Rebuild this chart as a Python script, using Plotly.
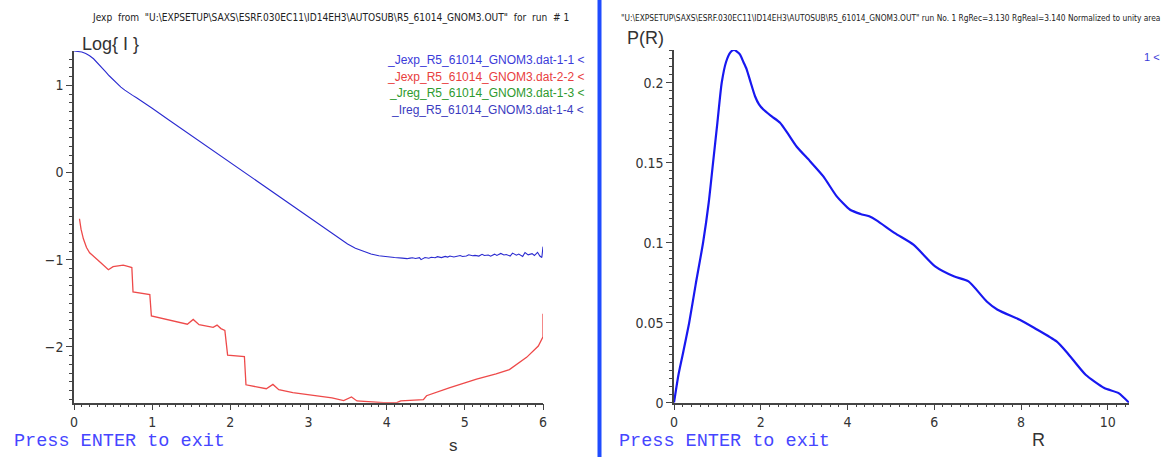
import plotly.graph_objects as go

W, H = 1165, 457

# ---------------- data: left panel (log I vs s) ----------------
s_exp = [0.0, 0.05, 0.10, 0.15, 0.20, 0.25, 0.30, 0.35, 0.40, 0.45, 0.50, 0.55, 0.60,
         0.65, 0.70, 0.75, 0.80, 0.90, 1.0, 1.2, 1.4, 1.6, 1.8, 2.0, 2.2, 2.4, 2.6,
         2.8, 3.0, 3.2, 3.4, 3.5, 3.6, 3.7, 3.8, 3.9, 4.0, 4.1, 4.2, 4.26,
         4.30, 4.33, 4.37, 4.42, 4.44, 4.49, 4.54, 4.57, 4.62, 4.65, 4.70, 4.75,
         4.78, 4.81, 4.86, 4.91, 4.94, 4.97, 5.02, 5.05, 5.10, 5.13, 5.18, 5.22,
         5.25, 5.30, 5.33, 5.38, 5.41, 5.46, 5.50, 5.53, 5.58, 5.61, 5.66, 5.69,
         5.74, 5.77, 5.81, 5.86, 5.89, 5.93, 5.96, 5.985, 6.0]
logI_exp = [1.394, 1.39, 1.382, 1.365, 1.34, 1.305, 1.26, 1.21, 1.16, 1.11, 1.065, 1.02, 0.98,
            0.945, 0.912, 0.885, 0.857, 0.80, 0.737, 0.612, 0.487, 0.362, 0.237, 0.112, -0.013,
            -0.138, -0.263, -0.388, -0.513, -0.638, -0.76, -0.82, -0.868, -0.905, -0.935, -0.955,
            -0.968, -0.975, -0.982, -0.988,
            -0.982, -0.978, -0.986, -0.976, -0.999, -0.975, -0.983, -0.972, -0.978, -0.965, -0.976,
            -0.962, -0.97, -0.957, -0.968, -0.96, -0.952, -0.963, -0.958, -0.944, -0.955,
            -0.95, -0.958, -0.938, -0.952, -0.946, -0.96, -0.936, -0.951, -0.928, -0.945,
            -0.94, -0.958, -0.924, -0.948, -0.935, -0.962, -0.918, -0.944, -0.93, -0.952,
            -0.915, -0.958, -0.975, -0.85]

s_err = [0.07, 0.09, 0.12, 0.16, 0.20, 0.25, 0.30, 0.35, 0.44, 0.50, 0.57, 0.63, 0.70,
         0.74, 0.755, 0.85, 0.97, 0.99, 1.2, 1.45, 1.525, 1.6, 1.78, 1.83, 1.88, 1.93,
         1.965, 2.18, 2.20, 2.46, 2.545, 2.62, 2.8, 3.0, 3.3, 3.45, 3.55, 3.62, 3.8,
         3.96, 4.13, 4.18, 4.47, 4.51, 4.8, 5.15, 5.4, 5.57, 5.79, 5.94, 6.0, 6.0]
logI_err = [-0.53, -0.65, -0.76, -0.86, -0.92, -0.965, -1.0, -1.04, -1.115, -1.08, -1.07,
            -1.063, -1.08, -1.09, -1.37, -1.385, -1.40, -1.645, -1.69, -1.74, -1.685, -1.745,
            -1.775, -1.75, -1.79, -1.81, -2.095, -2.11, -2.435, -2.48, -2.43, -2.49, -2.525,
            -2.55, -2.585, -2.615, -2.575, -2.62, -2.635, -2.64, -2.64, -2.62, -2.605, -2.56,
            -2.47, -2.37, -2.31, -2.26, -2.12, -1.99, -1.885, -1.62]

# ---------------- data: right panel (P(R) vs R) ----------------
r_vals = [0.0, 0.1, 0.2, 0.35, 0.5, 0.67, 0.8, 0.9, 1.0, 1.1, 1.2, 1.3, 1.38, 1.45, 1.52,
          1.6, 1.677, 1.77, 1.868, 1.96, 2.06, 2.253, 2.445, 2.63, 2.83, 3.136, 3.443, 3.752,
          4.06, 4.3, 4.5, 4.67, 5.09, 5.52, 6.02, 6.45, 6.79, 7.21, 7.46, 7.97, 8.31, 8.82,
          9.07, 9.49, 9.92, 10.25, 10.49]
p_vals = [0.0, 0.017, 0.03, 0.05, 0.074, 0.10, 0.125, 0.15, 0.175, 0.20, 0.213, 0.219,
          0.2205, 0.2195, 0.2177, 0.213, 0.2083, 0.20, 0.1916, 0.1865, 0.1833, 0.179, 0.175,
          0.168, 0.160, 0.151, 0.1415, 0.129, 0.1206, 0.118, 0.1165, 0.114, 0.106, 0.0988,
          0.0852, 0.079, 0.0758, 0.0633, 0.0581, 0.0519, 0.0467, 0.0383, 0.0311, 0.0175,
          0.0092, 0.006, 0.0]

legend_labels = ["_Jexp_R5_61014_GNOM3.dat-1-1 &lt;", "_Jexp_R5_61014_GNOM3.dat-2-2 &lt;",
                 "_Jreg_R5_61014_GNOM3.dat-1-3 &lt;", "_Ireg_R5_61014_GNOM3.dat-1-4 &lt;"]
legend_colors = ["#3b3bd9", "#e84040", "#2e9a2e", "#3b3bc0"]

title_left = r'Jexp  from  "U:\EXPSETUP\SAXS\ESRF.030EC11\ID14EH3\AUTOSUB\R5_61014_GNOM3.OUT"  for  run  # 1'
title_right = r'"U:\EXPSETUP\SAXS\ESRF.030EC11\ID14EH3\AUTOSUB\R5_61014_GNOM3.OUT" run No. 1 RgRec=3.130 RgReal=3.140 Normalized to unity area'

NARROW = "Liberation Sans Narrow, Arial Narrow, DejaVu Sans Condensed, sans-serif"
SANS = "Liberation Sans, Arial, sans-serif"
MONO = "Liberation Mono, DejaVu Sans Mono, monospace"
AXC = "#444444"

fig = go.Figure()
fig.add_trace(go.Scatter(x=s_exp, y=logI_exp, mode="lines", line=dict(color="#2a2ad0", width=1.1),
                         xaxis="x", yaxis="y", showlegend=False))
fig.add_trace(go.Scatter(x=s_err, y=logI_err, mode="lines", line=dict(color="#ee4a4a", width=1.3),
                         xaxis="x", yaxis="y", showlegend=False))
fig.add_trace(go.Scatter(x=r_vals, y=p_vals, mode="lines",
                         line=dict(color="#1818f0", width=2.2, shape="spline", smoothing=0.6),
                         xaxis="x2", yaxis="y2", showlegend=False))

def px(x):
    return x / W

def py(y):
    return 1 - y / H

axis_common = dict(showgrid=False, zeroline=False, showline=True, linecolor=AXC, linewidth=1.5,
                   ticks="outside", ticklen=6, tickwidth=1.2, tickcolor=AXC, automargin=False,
                   tickfont=dict(family=NARROW, size=14, color="#333333"))

fig.update_layout(
    width=W, height=H, autosize=False,
    margin=dict(l=0, r=0, t=0, b=0, pad=0),
    paper_bgcolor="white", plot_bgcolor="white",
    xaxis=dict(domain=[px(74), px(543)], range=[0, 6], dtick=1, anchor="y",
               minor=dict(dtick=0.1, ticklen=3, ticks="outside", tickcolor=AXC), **axis_common),
    yaxis=dict(domain=[py(402.7), py(51)], range=[-2.64, 1.394], dtick=1, anchor="x",
               minor=dict(dtick=0.1, ticklen=3, ticks="outside", tickcolor=AXC), **axis_common),
    xaxis2=dict(domain=[px(674), px(1129)], range=[0, 10.49], dtick=2, anchor="y2",
                minor=dict(dtick=0.2, ticklen=3, ticks="outside", tickcolor=AXC), **axis_common),
    yaxis2=dict(domain=[py(402.7), py(50)], range=[0, 0.2205], dtick=0.05, anchor="x2",
                minor=dict(dtick=0.005, ticklen=3, ticks="outside", tickcolor=AXC), **axis_common),
)

ann = []
def A(x, y, text, size, color="#333333", family=NARROW, xanchor="left"):
    ann.append(dict(x=px(x), y=py(y), xref="paper", yref="paper", text=text, showarrow=False,
                    xanchor=xanchor, yanchor="middle", font=dict(family=family, size=size, color=color)))

A(330, 18, title_left, 10.1, color="#222222", xanchor="center")
A(619, 18, title_right, 8.3, color="#222222")
A(80, 44, "Log{ I }", 18, family=SANS)
A(625, 38, "P(R)", 18, family=SANS)
A(453, 445, "s", 17, family=SANS, xanchor="center")
A(1038, 440, "R", 18, family=SANS, xanchor="center")
for i, (lab, col) in enumerate(zip(legend_labels, legend_colors)):
    A(586, 60 + i * 16.7, lab, 12, color=col, family=SANS, xanchor="right")
A(1162, 57, "1 &lt;", 11, color="#3b3bd9", family=SANS, xanchor="right")
A(12, 441, "Press ENTER to exit", 18.5, color="#4646ff", family=MONO)
A(617, 441, "Press ENTER to exit", 18.5, color="#4646ff", family=MONO)
fig.update_layout(annotations=ann)

fig.add_shape(type="line", xref="paper", yref="paper", x0=px(599.5), x1=px(599.5), y0=0, y1=1,
              line=dict(color="#1f4cff", width=4))

fig.write_html("out.html", config={"displayModeBar": False},
               post_script="document.body.style.margin='0';document.body.style.overflow='hidden';")
